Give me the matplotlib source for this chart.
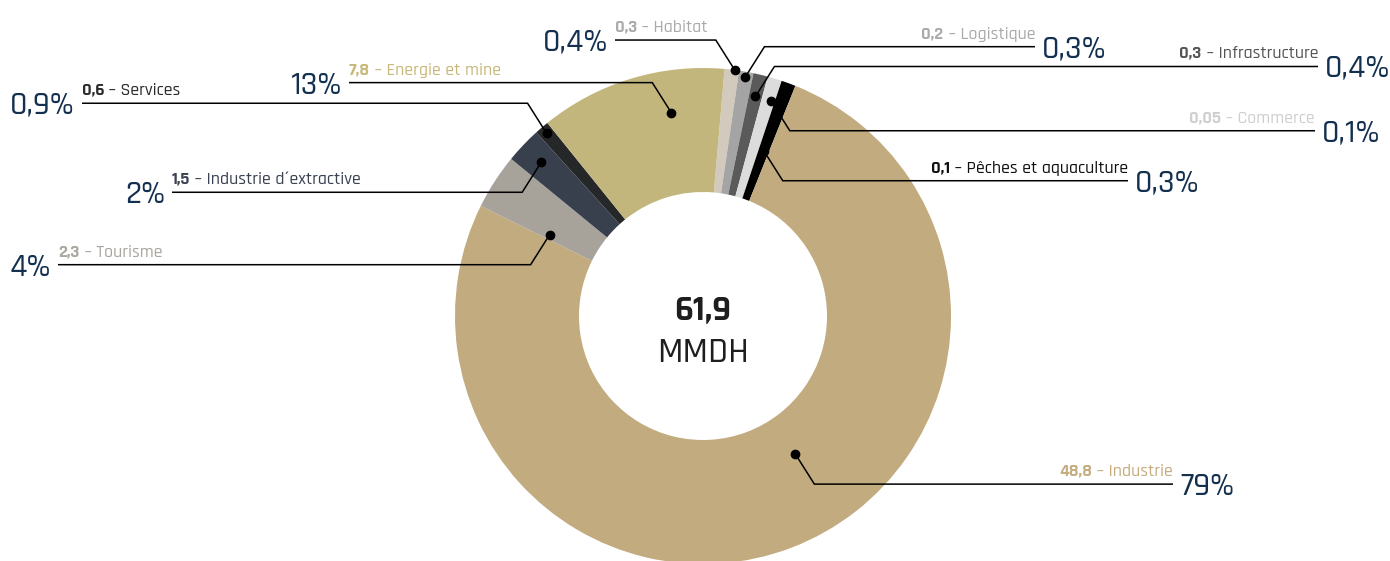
import numpy as np
import matplotlib.pyplot as plt

# sectors, clockwise from the top
names = ["Habitat", "Logistique", "Infrastructure", "Commerce",
         "Pêches et aquaculture", "Industrie", "Tourisme",
         "Industrie d´extractive", "Services", "Energie et mine"]
values = np.array([0.3, 0.2, 0.3, 0.05, 0.1, 48.8, 2.3, 1.5, 0.6, 7.8])
shares = ["0,4%", "0,3%", "0,4%", "0,1%", "0,3%", "79%", "4%", "2%", "0,9%", "13%"]
total_label = "61,9"
unit_label = "MMDH"

colors = ["#d2cabc", "#a4a4a4", "#5a5a5a", "#dcdcdc", "#000000",
          "#c2ab7e", "#a7a39b", "#383f4d", "#262729", "#c2b67c"]
text_colors = ["#aaaaaa", "#aaaaaa", "#555555", "#cfcfcf", "#111111",
               "#c4ac7f", "#aba69e", "#3a4150", "#2b2b2b", "#c8b87a"]
navy = "#14304f"

# leader line layout (pixels)
anchor_t = [0.3, 0.5, 0.5, 0.3, 0.5, 0.547, 0.88, 0.5, 0.5, 0.316]
anchor_r = [1.0, 0.98, 0.91, 0.91, 0.71, 0.67, 0.70, 0.90, 0.97, 0.83]
sides = [-1, 1, 1, 1, 1, 1, -1, -1, -1, -1]
rises = [1, 1, 1, -1, -1, -1, -1, -1, 1, 1]
line_end = [615, 1035, 1318, 1315, 1128, 1173, 58, 172, 82, 349]

W, H = 1390, 561
cx, cy, R = 703, H - 316, 248

plt.rcParams["font.family"] = ["Rajdhani", "DejaVu Sans"]

fig = plt.figure(figsize=(W / 100, H / 100), dpi=100)
ax = fig.add_axes([0, 0, 1, 1])

# the tiny sectors get a minimum width so they stay visible
shown = np.maximum(values, 0.6)
wedges, _ = ax.pie(shown, colors=colors, startangle=85, counterclock=False,
                   center=(cx, cy), radius=R,
                   wedgeprops=dict(width=R * 0.5, linewidth=0))
ax.set_xlim(0, W)
ax.set_ylim(0, H)
ax.set_aspect("equal")
ax.set_autoscale_on(False)
ax.axis("off")
renderer = fig.canvas.get_renderer()

for i, w in enumerate(wedges):
    th = np.deg2rad(w.theta1 + anchor_t[i] * (w.theta2 - w.theta1))
    px = cx + anchor_r[i] * R * np.cos(th)
    py = cy + anchor_r[i] * R * np.sin(th)
    ex = px + sides[i] * 19
    ey = py + rises[i] * 30
    ax.plot([px, ex, line_end[i]], [py, ey, ey], color="black", lw=1.1,
            solid_joinstyle="miter", solid_capstyle="butt")
    ax.plot(px, py, "o", color="black", ms=6)

    val = f"{values[i]:g}".replace(".", ",")
    ty = ey + 8
    if sides[i] > 0:
        t = ax.text(line_end[i], ty, " – " + names[i], ha="right", va="baseline",
                    fontsize=13, fontweight="medium", color=text_colors[i])
        bb = t.get_window_extent(renderer)
        ax.text(bb.x0, ty, val, ha="right", va="baseline", fontsize=13,
                fontweight="bold", color=text_colors[i])
        ax.text(line_end[i] + 7, ey - 2, shares[i], ha="left", va="center",
                fontsize=24, fontweight="medium", color=navy)
    else:
        t = ax.text(line_end[i], ty, val, ha="left", va="baseline", fontsize=13,
                    fontweight="bold", color=text_colors[i])
        bb = t.get_window_extent(renderer)
        ax.text(bb.x1, ty, " – " + names[i], ha="left", va="baseline",
                fontsize=13, fontweight="medium", color=text_colors[i])
        ax.text(line_end[i] - 7, ey - 2, shares[i], ha="right", va="center",
                fontsize=24, fontweight="medium", color=navy)

ax.text(cx, H - 310, total_label, ha="center", va="center", fontsize=26,
        fontweight="bold", color="#1e1e1e")
ax.text(cx, H - 352, unit_label, ha="center", va="center", fontsize=26,
        fontweight="medium", color="#1e1e1e")

fig.savefig("out.png", dpi=100)
